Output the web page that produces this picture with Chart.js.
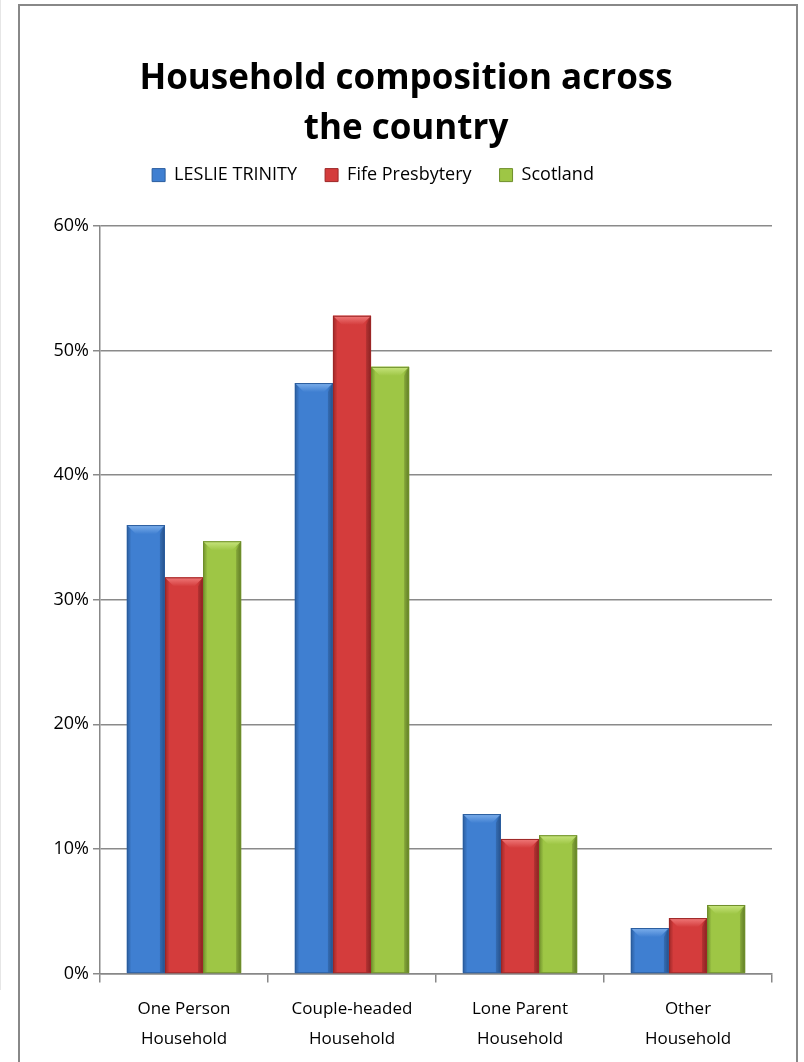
<!DOCTYPE html>
<html>
<head>
<meta charset="utf-8">
<script src="https://cdn.jsdelivr.net/npm/chart.js@4.4.1/dist/chart.umd.min.js"></script>
<style>
  html, body { margin: 0; padding: 0; background: #fff; }
  #wrap { position: relative; width: 804px; height: 1062px; overflow: hidden; }
  #frame { position: absolute; left: 18px; top: 4px; width: 780px; height: 1100px;
           border: 2px solid #888; box-sizing: border-box; }
  #edge { position: absolute; left: 0; top: 0; width: 1px; height: 990px; background: #e6e6e6; }
  canvas { position: absolute; left: 0; top: 0; }
</style>
</head>
<body>
<div id="wrap">
  <div id="edge"></div>
  <div id="frame"></div>
  <canvas id="chart" width="804" height="1062"></canvas>
</div>
<script>
const categories = [
    ["One Person", "Household"],
    ["Couple-headed", "Household"],
    ["Lone Parent", "Household"],
    ["Other", "Household"]
];
const seriesNames = ["LESLIE TRINITY", "Fife Presbytery", "Scotland"];
const leslieTrinity = [36.0, 47.4, 12.8, 3.65];
const fifePresbytery = [31.8, 52.8, 10.8, 4.45];
const scotland = [34.7, 48.7, 11.1, 5.5];
const yTicks = [0, 10, 20, 30, 40, 50, 60];

const colours = [
    { base: "#3f7fd1", light: "#7eb0ec", dark: "#2b5d9e" },
    { base: "#d43c3c", light: "#f07a7a", dark: "#9c2727" },
    { base: "#9ec645", light: "#c8e57e", dark: "#6f8f2c" }
];

const font = "'Open Sans', Lato, sans-serif";

// draws the little bevel on each bar, like the office chart style
const bevel = {
    id: "bevel",
    afterDatasetsDraw(chart) {
        const ctx = chart.ctx;
        chart.data.datasets.forEach((ds, i) => {
            const meta = chart.getDatasetMeta(i);
            const c = colours[i];
            meta.data.forEach((bar) => {
                const p = bar.getProps(["x", "y", "base", "width"], true);
                const l = p.x - p.width / 2, r = p.x + p.width / 2;
                const t = p.y, b = p.base;
                const h = b - t;
                const bv = Math.min(9, h / 2);

                ctx.save();
                let g = ctx.createLinearGradient(l, 0, r, 0);
                g.addColorStop(0, c.dark);
                g.addColorStop(0.12, c.base);
                g.addColorStop(0.85, c.base);
                g.addColorStop(1, c.dark);
                ctx.fillStyle = g;
                ctx.fillRect(l, t, r - l, h);

                // top face
                ctx.beginPath();
                ctx.moveTo(l, t);
                ctx.lineTo(r, t);
                ctx.lineTo(r - bv, t + bv);
                ctx.lineTo(l + bv, t + bv);
                ctx.closePath();
                let gt = ctx.createLinearGradient(0, t, 0, t + bv);
                gt.addColorStop(0, c.light);
                gt.addColorStop(1, c.base);
                ctx.fillStyle = gt;
                ctx.fill();

                // right side shade
                ctx.beginPath();
                ctx.moveTo(r, t);
                ctx.lineTo(r, b);
                ctx.lineTo(r - 5, b);
                ctx.lineTo(r - 5, t + bv);
                ctx.closePath();
                ctx.fillStyle = "rgba(0,0,0,0.12)";
                ctx.fill();

                ctx.strokeStyle = c.dark;
                ctx.lineWidth = 1;
                ctx.strokeRect(l + 0.5, t + 0.5, r - l - 1, h - 0.5);
                ctx.restore();
            });
        });
    }
};

const datasets = [leslieTrinity, fifePresbytery, scotland].map((vals, i) => ({
    label: seriesNames[i],
    data: vals,
    backgroundColor: colours[i].base,
    borderColor: colours[i].dark,
    borderWidth: 0,
    categoryPercentage: 0.68,
    barPercentage: 1.0
}));

const chart = new Chart(document.getElementById("chart"), {
    type: "bar",
    data: { labels: categories, datasets: datasets },
    plugins: [bevel],
    options: {
        responsive: false,
        animation: false,
        layout: { padding: { left: 40, right: 32, top: 54, bottom: -4 } },
        plugins: {
            title: {
                display: true,
                text: ["Household composition across", "the country"],
                color: "#000",
                font: { family: font, size: 35, weight: "bold", lineHeight: 1.43 },
                padding: { top: 0, bottom: -16 }
            },
            legend: {
                labels: {
                    color: "#000",
                    font: { family: font, size: 18 },
                    boxWidth: 13,
                    boxHeight: 13,
                    padding: 28,
                    generateLabels(chart) {
                        return chart.data.datasets.map((ds, i) => ({
                            text: ds.label,
                            fillStyle: colours[i].base,
                            strokeStyle: colours[i].dark,
                            lineWidth: 1,
                            datasetIndex: i
                        }));
                    }
                }
            },
            tooltip: { enabled: false }
        },
        scales: {
            x: {
                grid: {
                    offset: true,
                    drawOnChartArea: false,
                    drawTicks: true,
                    tickLength: 9,
                    color: "#888",
                    lineWidth: 1.5
                },
                border: { color: "#888", width: 1.5 },
                ticks: {
                    color: "#000",
                    font: { family: font, size: 17, lineHeight: 1.75 },
                    padding: 12,
                    maxRotation: 0
                }
            },
            y: {
                min: 0,
                max: 60,
                afterBuildTicks(axis) {
                    axis.ticks = yTicks.map((v) => ({ value: v }));
                },
                afterFit(axis) { axis.width = 60; },
                grid: {
                    color: "#8a8a8a",
                    lineWidth: 1.5,
                    tickLength: 7
                },
                border: { color: "#888", width: 1.5 },
                ticks: {
                    color: "#000",
                    font: { family: font, size: 18 },
                    padding: 4,
                    callback: (v) => v + "%"
                }
            }
        }
    }
});

// leave a gap under the legend, and sit it a little left of centre, as in the original
const legendFit = chart.legend.fit;
chart.legend.fit = function () {
    legendFit.call(this);
    this.height += 32;
};
const legendDraw = chart.legend.draw;
chart.legend.draw = function () {
    const ctx = this.ctx;
    ctx.save();
    ctx.translate(-33, 0);
    legendDraw.call(this);
    ctx.restore();
};
chart.update();
</script>
</body>
</html>
